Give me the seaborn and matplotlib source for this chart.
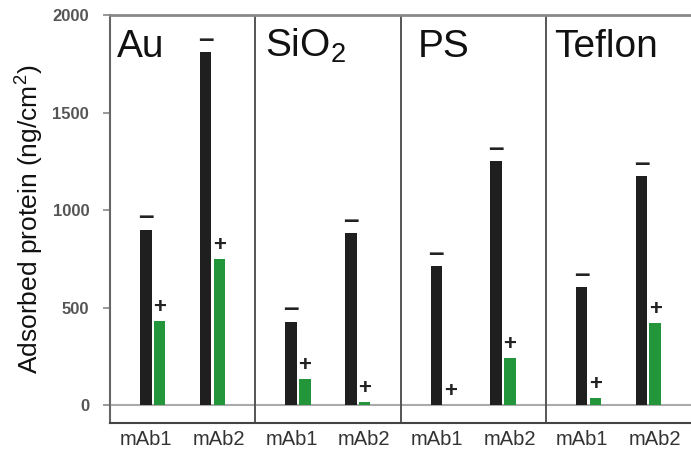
import pandas as pd
import numpy as np
import matplotlib
matplotlib.use('Agg')
import matplotlib.pyplot as plt
import matplotlib.transforms as mtransforms
import seaborn as sns

# data (ng/cm2)
surfaces = ['Au', r'SiO$_\mathregular{2}$', 'PS', 'Teflon']
antibodies = ['mAb1', 'mAb2']
conditions = ['\u2212', '+']
minus_vals = [900, 1810, 426, 882, 713, 1251, 605, 1174]
plus_vals = [431, 749, 133, 15, 0, 241, 36, 420]

# layout
slot_offset = [0.294, 0.706]
tick_offset = [0.25, 0.75]
label_offset = [0.05, 0.07, 0.12, 0.055]

rows = []
for i, s in enumerate(surfaces):
    for j, ab in enumerate(antibodies):
        k = i * 2 + j
        rows.append({'surface': s, 'mab': ab, 'pos': i + slot_offset[j],
                     'cond': conditions[0], 'value': minus_vals[k]})
        rows.append({'surface': s, 'mab': ab, 'pos': i + slot_offset[j],
                     'cond': conditions[1], 'value': plus_vals[k]})
df = pd.DataFrame(rows)

sns.set_theme(style='white')
plt.rcParams['font.family'] = ['Liberation Sans', 'DejaVu Sans']
plt.rcParams['mathtext.fontset'] = 'custom'
plt.rcParams['mathtext.rm'] = 'Liberation Sans'

fig = plt.figure(figsize=(6.91, 4.53), dpi=100)
ax = fig.add_axes([0.1592, 0.0662, 0.8408, 0.9007])

sns.barplot(data=df, x='pos', y='value', hue='cond', hue_order=conditions,
            native_scale=True, width=0.46, gap=0.17, errorbar=None,
            palette=['#1f1f1f', '#23963c'], saturation=1, legend=False,
            linewidth=0, ax=ax)

ax.set_xlim(0, len(surfaces))
ax.set_ylim(-92, 2000)

# +/- signs above the bars
for cont, sign in zip(ax.containers, conditions):
    if sign == conditions[0]:
        txt, off, fs = '\u2013', 9, 20
    else:
        txt, off, fs = '+', 10, 16
    for p in cont.patches:
        ax.annotate(txt, (p.get_x() + p.get_width() / 2, p.get_height()),
                    xytext=(0, off), textcoords='offset points',
                    ha='center', va='center', fontsize=fs, fontweight='bold',
                    color='#222222')

# panel dividers and baseline
for i in range(1, len(surfaces)):
    ax.axvline(i, color='#555555', lw=1.4)
ax.axhline(0, color='#aaaaaa', lw=1.5, zorder=0)

trans = mtransforms.blended_transform_factory(ax.transData, ax.transAxes)
for i, s in enumerate(surfaces):
    ax.text(i + label_offset[i], 0.897, s, transform=trans, fontsize=28,
            ha='left', va='baseline', color='#111111')

ticks = [i + t for i in range(len(surfaces)) for t in tick_offset]
ax.set_xticks(ticks)
ax.set_xticklabels(antibodies * len(surfaces), fontsize=14.5, color='#333333')
ax.tick_params(axis='x', length=0, pad=5)
ax.set_xlabel('')

ax.set_yticks([0, 500, 1000, 1500, 2000])
ax.set_yticklabels(['0', '500', '1000', '1500', '2000'], fontsize=12,
                   fontweight='bold', color='#555555')
ax.tick_params(axis='y', left=True, length=5, width=1.2, color='#888888', pad=10)
ax.set_ylabel(r'Adsorbed protein (ng/cm$^\mathregular{2}$)', fontsize=19,
              color='#111111')
ax.yaxis.set_label_coords(-0.112, 0.5)

ax.spines['right'].set_visible(False)
ax.spines['top'].set_color('#888888')
ax.spines['top'].set_linewidth(2)
ax.spines['left'].set_color('#666666')
ax.spines['left'].set_linewidth(1.5)
ax.spines['bottom'].set_color('#444444')
ax.spines['bottom'].set_linewidth(1.5)

fig.savefig('out.png', dpi=100)
